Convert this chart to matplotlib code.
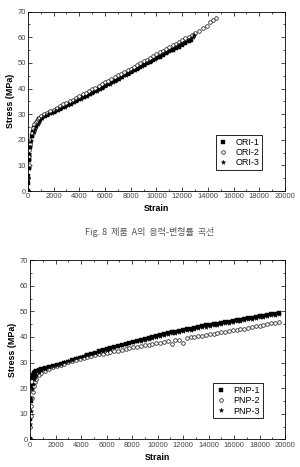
import matplotlib
matplotlib.use("Agg")
import matplotlib.pyplot as plt

# ── Fig. 8 : ORI specimens
ori1_strain = [0, 20, 40, 60, 80, 100, 150, 200, 300, 400, 500, 600, 700, 800, 900, 1000,
               1250, 1500, 1750, 2000, 2250, 2500, 2750, 3000, 3250, 3500, 3750, 4000,
               4250, 4500, 4750, 5000, 5250, 5500, 5750, 6000, 6250, 6500, 6750, 7000,
               7250, 7500, 7750, 8000, 8250, 8500, 8750, 9000, 9250, 9500, 9750, 10000,
               10250, 10500, 10750, 11000, 11250, 11500, 11750, 12000, 12250, 12500, 12700]
ori1_stress = [0, 3, 6, 9, 12, 14, 17, 19, 21.5, 23, 24.5, 25.5, 26.5, 27.3, 28, 28.5,
               29.2, 29.8, 30.4, 31.0, 31.6, 32.2, 32.8, 33.4, 34.0, 34.6, 35.2, 35.9,
               36.5, 37.1, 37.8, 38.4, 39.1, 39.7, 40.4, 41.1, 41.7, 42.4, 43.1, 43.7,
               44.4, 45.1, 45.8, 46.5, 47.1, 47.8, 48.5, 49.2, 49.8, 50.5, 51.2, 51.9,
               52.5, 53.2, 53.8, 54.5, 55.1, 55.8, 56.4, 57.1, 57.7, 58.4, 59.0]

ori2_strain = [0, 25, 50, 75, 100, 150, 200, 300, 400, 500, 600, 700, 800, 900, 1000,
               1250, 1500, 1750, 2000, 2250, 2500, 2750, 3000, 3250, 3500, 3750, 4000,
               4250, 4500, 4750, 5000, 5250, 5500, 5750, 6000, 6250, 6500, 6750, 7000,
               7250, 7500, 7750, 8000, 8250, 8500, 8750, 9000, 9250, 9500, 9750, 10000,
               10250, 10500, 10750, 11000, 11250, 11500, 11750, 12000, 12250, 12500, 12750, 13000,
               13300, 13600, 13900, 14200, 14400, 14600]
ori2_stress = [0, 5, 10, 13.5, 16, 18.5, 20, 22.5, 24.5, 26, 26.8, 27.5, 28, 28.6, 29.2,
               29.9, 30.6, 31.2, 31.8, 32.5, 33.1, 33.8, 34.4, 35.1, 35.7, 36.4, 37.0,
               37.7, 38.3, 39.0, 39.7, 40.3, 41.0, 41.7, 42.4, 43.0, 43.7, 44.4, 45.1,
               45.8, 46.4, 47.1, 47.8, 48.5, 49.2, 49.9, 50.6, 51.3, 52.0, 52.7, 53.4,
               54.1, 54.7, 55.4, 56.1, 56.8, 57.5, 58.2, 58.9, 59.6, 60.3, 61.0, 61.7,
               62.6, 63.5, 64.5, 65.8, 66.8, 67.6]

ori3_strain = [0, 30, 60, 90, 120, 170, 250, 350, 450, 550, 650, 750, 850, 950, 1100,
               1350, 1600, 1850, 2100, 2350, 2600, 2850, 3100, 3350, 3600,
               3850, 4100, 4350, 4600, 4850, 5100, 5350, 5600, 5850, 6100,
               6350, 6600, 6850, 7100, 7350, 7600, 7850, 8100, 8350, 8600,
               8850, 9100, 9350, 9600, 9850, 10100, 10350, 10600, 10850, 11100,
               11350, 11600, 11850, 12100, 12350, 12600, 12850, 12950]
ori3_stress = [0, 5, 9, 12, 14.5, 17, 19.5, 21.5, 23, 24.3, 25.4, 26.3, 27.1, 27.8, 28.6,
               29.3, 29.9, 30.5, 31.1, 31.7, 32.3, 32.9, 33.5, 34.1, 34.7,
               35.4, 36.0, 36.6, 37.2, 37.9, 38.5, 39.2, 39.8, 40.5, 41.2,
               41.8, 42.5, 43.2, 43.9, 44.6, 45.3, 46.0, 46.7, 47.4, 48.1,
               48.8, 49.5, 50.2, 50.9, 51.6, 52.3, 53.0, 53.7, 54.4, 55.1,
               55.8, 56.5, 57.2, 57.9, 58.6, 59.4, 60.3, 61.0]

# ── PNP specimens
pnp_strain = [0, 30, 60, 100, 150, 200, 300, 400, 500, 700, 900,
              1200, 1500, 1800, 2100, 2400, 2700, 3000, 3300, 3600, 3900,
              4200, 4500, 4800, 5100, 5400, 5700, 6000, 6300, 6600, 6900,
              7200, 7500, 7800, 8100, 8400, 8700, 9000, 9300, 9600, 9900,
              10200, 10500, 10800, 11100, 11400, 11700, 12000, 12300, 12600, 12900,
              13200, 13500, 13800, 14100, 14400, 14700, 15000, 15300, 15600, 15900,
              16200, 16500, 16800, 17100, 17400, 17700, 18000, 18300, 18600, 18900,
              19200, 19500]
pnp1_stress = [0, 8, 15, 21, 24, 25, 25.8, 26.3, 26.7, 27.2, 27.6,
               27.9, 28.3, 28.7, 29.1, 29.5, 29.9, 30.4, 30.9, 31.4, 31.8,
               32.3, 32.9, 33.4, 33.9, 34.4, 34.8, 35.3, 35.7, 36.2, 36.6,
               37.0, 37.4, 37.8, 38.2, 38.6, 39.0, 39.4, 39.7, 40.1, 40.5,
               40.8, 41.1, 41.5, 41.8, 42.1, 42.4, 42.7, 43.0, 43.3, 43.6,
               43.9, 44.2, 44.5, 44.7, 45.0, 45.2, 45.5, 45.7, 46.0, 46.3,
               46.5, 46.8, 47.0, 47.3, 47.5, 47.8, 48.0, 48.3, 48.5, 48.8,
               49.0, 49.2]
pnp2_stress = [0, 5, 9, 13, 16, 18.5, 21, 22.5, 23.5, 25, 26,
               26.8, 27.5, 28.1, 28.6, 29.1, 29.6, 30.1, 30.5, 30.9, 31.3,
               31.7, 32.1, 32.5, 32.8, 33.2, 33.5, 33.8, 34.1, 34.4, 34.7,
               35.0, 35.3, 35.6, 35.9, 36.2, 36.5, 36.8, 37.0, 37.3, 37.6,
               37.8, 38.1, 38.3, 37.3, 38.8, 39.0, 37.5, 39.5, 39.8, 40.0,
               40.3, 40.5, 40.8, 41.0, 41.3, 41.5, 41.8, 42.0, 42.3, 42.6,
               42.8, 43.1, 43.3, 43.6, 43.8, 44.1, 44.4, 44.7, 45.0, 45.3,
               45.6, 46.0]
pnp3_stress = [0, 6, 11, 16, 19.5, 21.5, 23.5, 24.5, 25.3, 26.3, 27.0,
               27.6, 28.1, 28.6, 29.1, 29.6, 30.1, 30.6, 31.1, 31.6, 32.1,
               32.6, 33.1, 33.5, 33.9, 34.3, 34.7, 35.1, 35.5, 35.9, 36.3,
               36.7, 37.1, 37.5, 37.9, 38.3, 38.6, 39.0, 39.3, 39.7, 40.0,
               40.4, 40.7, 41.0, 41.4, 41.7, 42.0, 42.3, 42.6, 42.9, 43.2,
               43.5, 43.8, 44.0, 44.3, 44.6, 44.8, 45.1, 45.4, 45.6, 45.9,
               46.2, 46.4, 46.7, 46.9, 47.2, 47.4, 47.7, 47.9, 48.2, 48.4,
               48.7, 48.9]

CAPTION = "Fig. 8  제품  A의  응력-변형률  곡선"
X_TICKS = [0, 2000, 4000, 6000, 8000, 10000, 12000, 14000, 16000, 18000, 20000]
Y_TICKS = [0, 10, 20, 30, 40, 50, 60, 70]

plt.rcParams["font.family"] = ["Liberation Sans", "DejaVu Sans"]

fig = plt.figure(figsize=(3.0, 4.67), dpi=100)
ax_top = fig.add_axes([0.093, 0.591, 0.857, 0.384])
ax_bot = fig.add_axes([0.100, 0.059, 0.850, 0.384])

STYLES = [
    dict(marker="s", ms=2.4, mfc="black", mec="black", mew=0.3),
    dict(marker="o", ms=2.6, mfc="white", mec="#222222", mew=0.55),
    dict(marker="*", ms=3.3, mfc="black", mec="black", mew=0.3),
]


def style_axes(ax):
    ax.set_xlim(0, 20000)
    ax.set_ylim(0, 70)
    ax.set_xticks(X_TICKS)
    ax.set_yticks(Y_TICKS)
    ax.set_xticks(range(1000, 20000, 2000), minor=True)
    ax.set_yticks(range(5, 70, 10), minor=True)
    ax.tick_params(which="both", direction="in", top=True, right=True,
                   labelsize=5.5, labelcolor="#444444", pad=1.5)
    ax.tick_params(which="major", length=2.8, width=0.5)
    ax.tick_params(which="minor", length=1.4, width=0.5)
    for s in ax.spines.values():
        s.set_linewidth(0.6)
    ax.set_xlabel("Strain", fontsize=6.4, fontweight="bold", labelpad=3)
    ax.set_ylabel("Stress (MPa)", fontsize=6.4, fontweight="bold", labelpad=2)


LEG_KW = dict(loc="upper right", fontsize=6.5, frameon=True, fancybox=False,
              edgecolor="black", framealpha=1, handlelength=1.0,
              handletextpad=0.9, labelspacing=0.15, borderpad=0.3,
              borderaxespad=0.0, markerscale=1.0)

ax = ax_top
for (x, y, lab), st in zip([(ori1_strain, ori1_stress, "ORI-1"),
                            (ori2_strain, ori2_stress, "ORI-2"),
                            (ori3_strain, ori3_stress, "ORI-3")], STYLES):
    ax.plot(x, y, ls="none", label=lab, **st)
style_axes(ax)
leg = ax.legend(bbox_to_anchor=(0.912, 0.312), **LEG_KW)
leg.get_frame().set_linewidth(0.6)

ax = ax_bot
for (y, lab), st in zip([(pnp1_stress, "PNP-1"),
                         (pnp2_stress, "PNP-2"),
                         (pnp3_stress, "PNP-3")], STYLES):
    ax.plot(pnp_strain, y, ls="none", label=lab, **st)
style_axes(ax)
leg = ax.legend(bbox_to_anchor=(0.912, 0.314), **LEG_KW)
leg.get_frame().set_linewidth(0.6)

fig.text(0.5, 0.504, CAPTION, ha="center", va="center", fontsize=6.5,
         color="#555555", family=["Noto Sans CJK KR", "DejaVu Sans"])

fig.savefig("out.png", dpi=100)
